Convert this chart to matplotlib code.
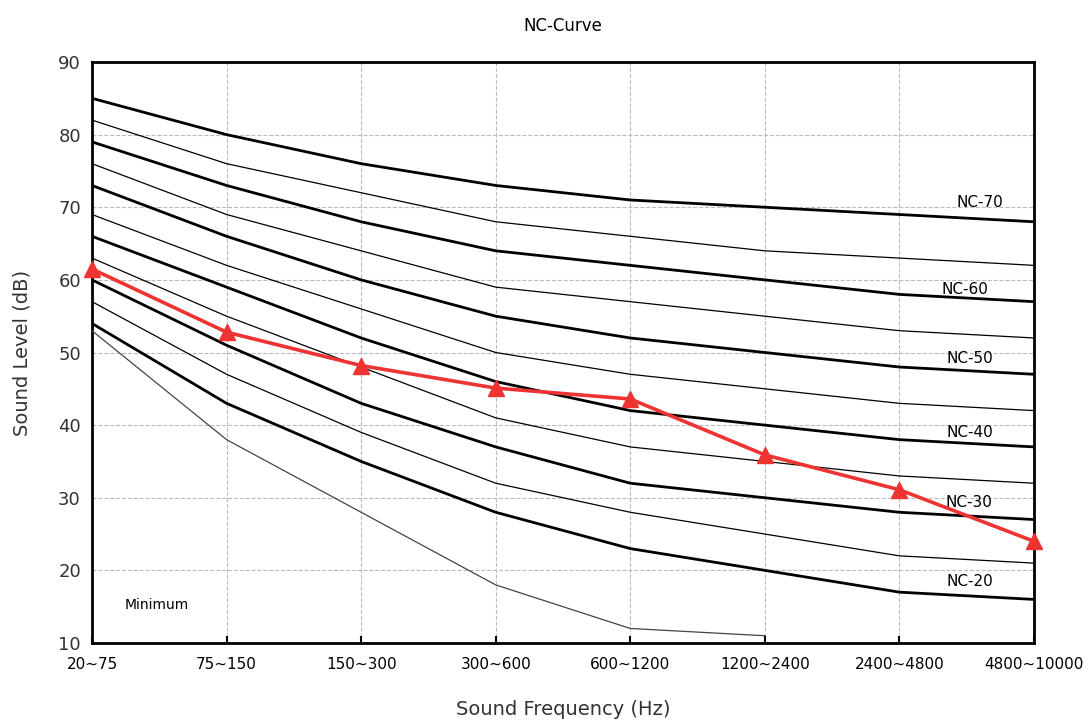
import numpy as np
import matplotlib.pyplot as plt

bands = ["20~75", "75~150", "150~300", "300~600", "600~1200",
         "1200~2400", "2400~4800", "4800~10000"]

nc70 = [85, 80, 76, 73, 71, 70, 69, 68]
nc65 = [82, 76, 72, 68, 66, 64, 63, 62]
nc60 = [79, 73, 68, 64, 62, 60, 58, 57]
nc55 = [76, 69, 64, 59, 57, 55, 53, 52]
nc50 = [73, 66, 60, 55, 52, 50, 48, 47]
nc45 = [69, 62, 56, 50, 47, 45, 43, 42]
nc40 = [66, 59, 52, 46, 42, 40, 38, 37]
nc35 = [63, 55, 48, 41, 37, 35, 33, 32]
nc30 = [60, 51, 43, 37, 32, 30, 28, 27]
nc25 = [57, 47, 39, 32, 28, 25, 22, 21]
nc20 = [54, 43, 35, 28, 23, 20, 17, 16]
minimum = [53, 38, 28, 18, 12, 11]

measured = [61.5, 52.8, 48.2, 45.1, 43.6, 35.9, 31.1, 24.0]

thick = [nc70, nc60, nc50, nc40, nc30, nc20]
thin = [nc65, nc55, nc45, nc35, nc25]
label_names = ["NC-70", "NC-60", "NC-50", "NC-40", "NC-30", "NC-20"]
label_x = [6.6, 6.49, 6.52, 6.52, 6.52, 6.52]
label_y = [70.7, 58.7, 49.2, 39.0, 29.3, 18.4]

fig = plt.figure(figsize=(10.89, 7.24), dpi=100)
ax = fig.add_axes([92 / 1089, 1 - 643 / 724, 942 / 1089, 581 / 724])

x = np.arange(len(bands))
for c in thick:
    ax.plot(x, c, color="black", lw=2.0, zorder=3)
for c in thin:
    ax.plot(x, c, color="black", lw=0.9, zorder=3)
ax.plot(x[:len(minimum)], minimum, color="#444444", lw=0.9, zorder=3)

ax.plot(x, measured, color="#EE3333", lw=2.6, marker="^", markersize=11,
        zorder=5, clip_on=False)

for name, lx, ly in zip(label_names, label_x, label_y):
    ax.text(lx, ly, name, fontsize=11, ha="center", va="center", zorder=4)
ax.text(0.48, 15.2, "Minimum", fontsize=10, ha="center", va="center")

ax.set_xlim(0, 7)
ax.set_ylim(10, 90)
ax.set_yticks(range(10, 91, 10))
ax.set_xticks(x)
ax.set_xticklabels(bands, fontsize=11)
ax.tick_params(axis="y", labelsize=13, length=0, pad=8, labelcolor="#333333")
ax.tick_params(axis="x", direction="in", length=5, width=1.5, pad=10)
ax.grid(True, color="#BBBBBB", linestyle="--", lw=0.8)
ax.set_axisbelow(True)
for s in ax.spines.values():
    s.set_linewidth(2.0)

ax.set_title("NC-Curve", fontsize=12, pad=22)
ax.set_ylabel("Sound Level (dB)", fontsize=14, color="#333333")
ax.yaxis.set_label_coords(-0.064, 0.5)
ax.set_xlabel("Sound Frequency (Hz)", fontsize=14, labelpad=20, color="#333333")

fig.savefig("out.png")
